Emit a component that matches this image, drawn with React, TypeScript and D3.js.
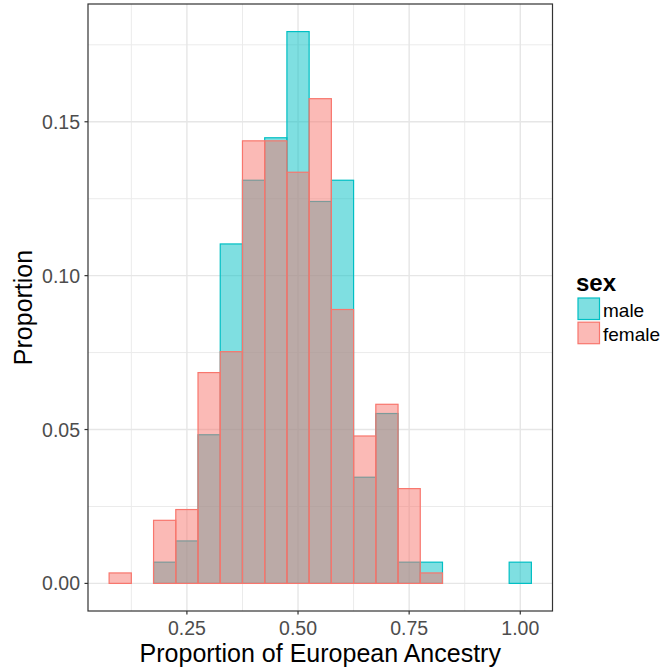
import React from "react";
import * as d3 from "d3";

// Bin centres (binwidth 0.05) and per-sex proportions in each bin
const binCenters = [0.1, 0.15, 0.2, 0.25, 0.3, 0.35, 0.4, 0.45, 0.5, 0.55, 0.6, 0.65, 0.7, 0.75, 0.8, 0.85, 0.9, 0.95, 1.0];
const maleValues = [0, 0, 0.0069, 0.0138, 0.0483, 0.1103, 0.131, 0.1448, 0.1793, 0.1241, 0.131, 0.0345, 0.0552, 0.0069, 0.0069, 0, 0, 0, 0.0069];
const femaleValues = [0.0034, 0, 0.0205, 0.024, 0.0685, 0.0753, 0.1438, 0.1438, 0.1336, 0.1575, 0.089, 0.0479, 0.0582, 0.0308, 0.0034, 0, 0, 0, 0];
const binWidth = 0.05;

const xTicks = [0.25, 0.5, 0.75, 1.0];
const xMinor = [0.125, 0.375, 0.625, 0.875];
const yTicks = [0, 0.05, 0.1, 0.15];
const yMinor = [0.025, 0.075, 0.125, 0.175];

const seriesNames = ["male", "female"];
const seriesColors = ["#00BFC4", "#F8766D"];

const W = 663;
const H = 669;
const panel = { left: 88, right: 552.5, top: 4, bottom: 611 };
const FONT = "'Liberation Sans', Arial, sans-serif";

export default function App() {
  const xLo = d3.min(binCenters)! - binWidth / 2;
  const xHi = d3.max(binCenters)! + binWidth / 2;
  const xPad = (xHi - xLo) * 0.05;
  const x = d3.scaleLinear().domain([xLo - xPad, xHi + xPad]).range([panel.left, panel.right]);

  const yMax = d3.max([...maleValues, ...femaleValues])!;
  const yPad = yMax * 0.05;
  const y = d3.scaleLinear().domain([-yPad, yMax + yPad]).range([panel.bottom, panel.top]);

  const series = [maleValues, femaleValues];
  const fmt = d3.format(".2f");

  return (
    <svg width={W} height={H} style={{ position: "absolute", left: 0, top: 0, background: "#fff" }} fontFamily={FONT}>
      <rect x={0} y={0} width={W} height={H} fill="#fff" />
      {/* grid */}
      {xMinor.map((v) => (
        <line key={"xm" + v} x1={x(v)} x2={x(v)} y1={panel.top} y2={panel.bottom} stroke="#EBEBEB" strokeWidth={1} />
      ))}
      {yMinor.map((v) => (
        <line key={"ym" + v} x1={panel.left} x2={panel.right} y1={y(v)} y2={y(v)} stroke="#EBEBEB" strokeWidth={1} />
      ))}
      {xTicks.map((v) => (
        <line key={"xg" + v} x1={x(v)} x2={x(v)} y1={panel.top} y2={panel.bottom} stroke="#E6E6E6" strokeWidth={1.4} />
      ))}
      {yTicks.map((v) => (
        <line key={"yg" + v} x1={panel.left} x2={panel.right} y1={y(v)} y2={y(v)} stroke="#E6E6E6" strokeWidth={1.4} />
      ))}

      {/* histogram bars: male first, female overlaid */}
      {series.map((vals, si) => (
        <g key={seriesNames[si]}>
          {vals.map((v, i) => {
            const x0 = x(binCenters[i] - binWidth / 2);
            const x1 = x(binCenters[i] + binWidth / 2);
            return (
              <rect
                key={i}
                x={x0}
                y={y(v)}
                width={x1 - x0}
                height={y(0) - y(v)}
                fill={seriesColors[si]}
                fillOpacity={0.5}
                stroke={seriesColors[si]}
                strokeWidth={1.2}
              />
            );
          })}
        </g>
      ))}

      {/* panel border */}
      <rect
        x={panel.left}
        y={panel.top}
        width={panel.right - panel.left}
        height={panel.bottom - panel.top}
        fill="none"
        stroke="#333333"
        strokeWidth={1.2}
      />

      {/* y axis */}
      {yTicks.map((v) => (
        <g key={"yt" + v}>
          <line x1={panel.left - 3.5} x2={panel.left} y1={y(v)} y2={y(v)} stroke="#333333" strokeWidth={1.2} />
          <text x={80} y={y(v)} dy="0.36em" textAnchor="end" fontSize={19.5} fill="#4D4D4D">
            {fmt(v)}
          </text>
        </g>
      ))}
      {/* x axis */}
      {xTicks.map((v) => (
        <g key={"xt" + v}>
          <line x1={x(v)} x2={x(v)} y1={panel.bottom} y2={panel.bottom + 3.5} stroke="#333333" strokeWidth={1.2} />
          <text x={x(v)} y={635} textAnchor="middle" fontSize={19.5} fill="#4D4D4D">
            {fmt(v)}
          </text>
        </g>
      ))}

      {/* axis titles */}
      <text x={(panel.left + panel.right) / 2} y={661.5} textAnchor="middle" fontSize={25} fill="#000">
        Proportion of European Ancestry
      </text>
      <text
        transform={`translate(32,${(panel.top + panel.bottom) / 2}) rotate(-90)`}
        textAnchor="middle"
        fontSize={25}
        fill="#000"
      >
        Proportion
      </text>

      {/* legend */}
      <text x={576} y={290.5} fontSize={24} fontWeight="bold" fill="#000">
        sex
      </text>
      {seriesNames.map((name, i) => (
        <g key={"lg" + name}>
          <rect
            x={578}
            y={298 + i * 24.2}
            width={21.5}
            height={21.5}
            fill={seriesColors[i]}
            fillOpacity={0.5}
            stroke={seriesColors[i]}
            strokeWidth={1.2}
          />
          <text x={603} y={316.5 + i * 24.2} fontSize={19} fill="#000">
            {name}
          </text>
        </g>
      ))}
    </svg>
  );
}
